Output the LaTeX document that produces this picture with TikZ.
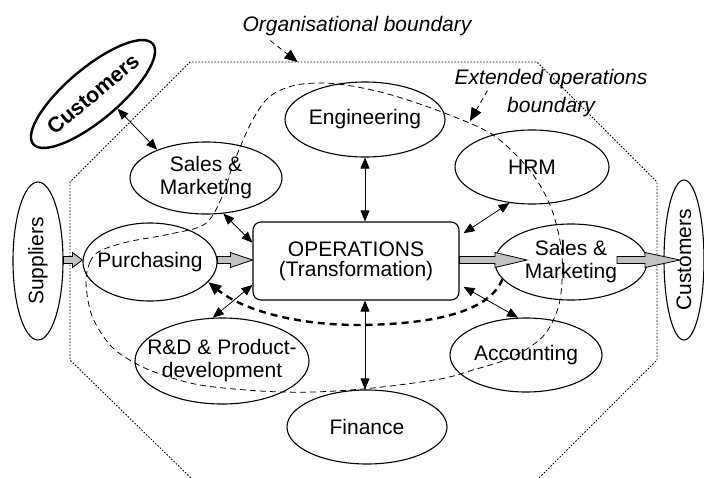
\documentclass[tikz,border=0pt]{standalone}
\usepackage{fontspec}
\setmainfont{Liberation Sans}
\usetikzlibrary{shapes.geometric, arrows.meta, calc}
\definecolor{fatgray}{gray}{0.76}
\begin{document}
\begin{tikzpicture}[x=1pt, y=-1pt,
  every node/.style={font=\fontsize{21}{23}\selectfont},
  oval/.style={ellipse, draw, line width=1.1pt, inner sep=0pt},
  lbl/.style={align=center, inner sep=0pt},
  opsbox/.style={draw, line width=1.1pt, rounded corners=8pt, inner sep=0pt,
    minimum width=206pt, minimum height=78pt, align=center,
    font=\fontsize{21}{20}\selectfont},
  tip/.style={Triangle[length=11pt, width=9pt]},
  dbl/.style={{Triangle[length=11pt, width=9pt]}-{Triangle[length=11pt, width=9pt]}, line width=0.8pt},
  orgline/.style={line width=0.9pt, dash pattern=on 1.6pt off 1.6pt},
  extline/.style={line width=0.8pt, dash pattern=on 6pt off 4pt},
  flowback/.style={line width=2.4pt, dash pattern=on 7pt off 5pt, -{Triangle[length=13pt, width=11pt]}},
  pointer/.style={line width=0.8pt, dash pattern=on 5pt off 4pt, -{Triangle[length=13pt, width=11pt]}},
  fat head/.store in=\fathd, fat head=20pt,
  fat/.style={draw=black, line width=0.8pt, fill=fatgray, fat head=#1,
    to path={let \p1=(\tikztostart), \p2=(\tikztotarget) in
      (\x1,\y1+3.5pt) -- (\x2-\fathd,\y1+3.5pt) -- (\x2-\fathd,\y1+7.5pt)
      -- (\x2,\y1) -- (\x2-\fathd,\y1-7.5pt) -- (\x2-\fathd,\y1-3.5pt)
      -- (\x1,\y1-3.5pt) -- cycle}},
]
\useasboundingbox (0,0) rectangle (704,477);
\clip (0,0) rectangle (704,477);

% organisational boundary (dotted octagon)
\coordinate (o1) at (190,62);
\coordinate (o2) at (537,62);
\draw[orgline] (193,480) -- (70,360) -- (70,182) -- (o1) -- (o2)
  -- (657,182) -- (657,360) -- (537,480);

% extended operations boundary (dashed closed curve)
\draw[extline] plot[smooth cycle, tension=0.55] coordinates {
  (86,283) (90,262) (100,251) (127,242) (170,234) (205,224) (222,197)
  (233,165) (250,125) (268,98) (292,86) (320,83) (352,86) (395,96)
  (447,114) (490,133) (518,157) (538,182) (553,213) (562,255) (560,300)
  (548,330) (530,347) (505,360) (473,370) (440,379) (373,388) (313,392)
  (260,391) (200,385) (160,374) (133,362) (110,345) (92,316)};
\coordinate (extTip) at (470,121);

% labels of the two boundaries
\node[lbl, font=\itshape\fontsize{21}{23}\selectfont, anchor=base] (org) at (357,31) {Organisational boundary};
\node[lbl, font=\itshape\fontsize{21}{28}\selectfont, anchor=north] (ext) at (551,69.5) {Extended operations\\boundary};
\draw[pointer] ($(org.south west)+(28,5)$) -- ($(o1)!0.31!(o2)$);
\draw[pointer] ($(ext.north west)+(33,21)$) -- (extTip);

% functions
\node[opsbox] (ops) at (356,261) {OPERATIONS\\(Transformation)};
\node[oval, line width=2.4pt, rotate=40, minimum width=156pt, minimum height=52pt,
  label={[lbl, rotate=40, font=\bfseries\fontsize{21.5}{23}\selectfont]center:Customers}] (cust1) at (93,94) {};
\node[oval, minimum width=152pt, minimum height=72pt,
  label={[lbl]center:{Sales \&\\Marketing}}] (sm1) at (206,178) {};
\node[oval, minimum width=160pt, minimum height=75pt,
  label={[lbl]center:Engineering}] (eng) at (365,119.5) {};
\node[oval, minimum width=154pt, minimum height=74pt,
  label={[lbl]center:HRM}] (hrm) at (532,167) {};
\node[oval, minimum width=50pt, minimum height=158pt,
  label={[lbl, rotate=90]center:Suppliers}] (sup) at (38,261) {};
\node[oval, minimum width=134pt, minimum height=78pt,
  label={[lbl]center:Purchasing}] (pur) at (150,262) {};
\node[oval, minimum width=152pt, minimum height=76pt,
  label={[lbl]center:{Sales \&\\Marketing}}] (sm2) at (571,262) {};
\node[oval, minimum width=40pt, minimum height=160pt,
  label={[lbl, rotate=90]center:Customers}] (cust2) at (684,260) {};
\node[oval, minimum width=174pt, minimum height=86pt,
  label={[lbl]center:{R\&D \& Product-\\development}}] (rd) at (222,361) {};
\node[oval, minimum width=160pt, minimum height=74pt,
  label={[lbl]center:Finance}] (fin) at (367,427) {};
\node[oval, minimum width=152pt, minimum height=74pt,
  label={[lbl]center:Accounting}] (acc) at (526,355) {};

% material flow
\draw[fat=10pt] ($(sup.east)+(0,-1)$) to ($(pur.west)+(0,-1)$);
\draw[fat=22pt] ($(pur.east)+(0,-2)$) to ($(ops.west)+(0,-1)$);
\draw[fat=32pt] ($(ops.east)+(0,-1)$) to ($(sm2.center)+(-44,-1)$);
\draw[fat=35pt] ($(sm2.center)+(46,-2)$) to ($(cust2.center)+(-4,-2)$);

% information links
\draw[dbl] (cust1.-71) -- (sm1.150);
\draw[dbl] (sm1.-64) -- (ops.170);
\draw[dbl] (eng) -- (eng |- ops.north);
\draw[dbl] (hrm.-122) -- ([xshift=4pt]ops.15);
\draw[dbl] (eng |- ops.south) -- (eng |- fin.north);
\draw[dbl] ([xshift=4pt]ops.-14) -- (acc.102);
\draw[dbl] (ops.193) -- (rd.102);

% feedback from sales to purchasing
\draw[flowback] (sm2.194) .. controls (490,310) and (440,324) .. (360,325)
  .. controls (290,325) and (240,308) .. (pur.-19);
\end{tikzpicture}
\end{document}
